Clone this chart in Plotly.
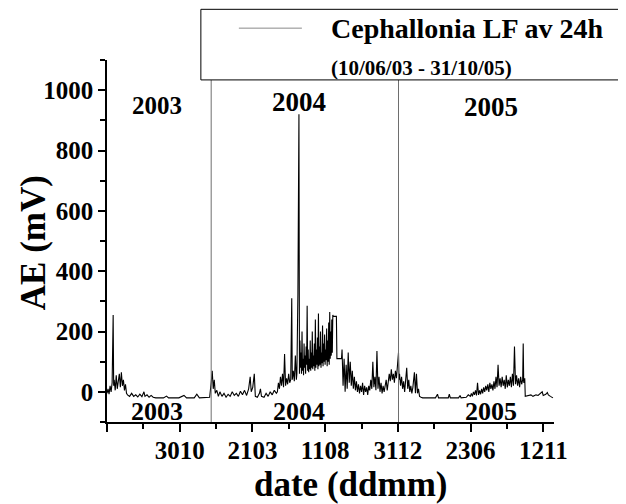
"""AE daily average at Cephallonia, 2003-2005."""

import plotly.graph_objects as go

# day index counted from 10/06/03, and the 24h-averaged AE in mV
days = [
    0, 2, 4, 6, 8, 10, 12, 13, 14, 16, 18, 20, 22, 24, 26, 28, 30, 32, 34, 36, 38, 40,
    44, 48, 52, 56, 60, 64, 68, 72, 74, 78, 82, 86, 90, 95,
    110, 116, 120, 140, 150, 155, 170, 175, 180, 195, 200,
    203, 205, 207, 209, 211, 214, 217, 220, 224, 228, 232, 236, 240, 244, 248, 252,
    256, 260, 264, 268, 272, 276, 279, 281, 284, 287, 289, 293, 297, 299, 301, 306,
    310, 314, 318, 322, 326, 330,
    332, 334, 336, 338, 340, 342, 344, 346, 348, 350, 352, 354, 356, 358, 360, 361,
    363, 365, 367, 369, 370, 372, 374,
    375, 376, 377, 378, 379, 380, 381, 382, 383, 384, 385, 386, 387, 388, 389, 390,
    391, 392, 393, 394, 395, 396, 397, 398, 399, 400, 401, 402, 403, 404, 405, 406,
    407, 408, 409, 410, 411, 412, 413, 414, 415, 416, 417, 418, 419, 420, 421, 422,
    423, 424, 425, 426, 427, 428, 429, 430, 431, 432, 433, 434, 435, 436, 437, 438,
    439, 440, 441, 447, 448, 457,
    458, 460, 462, 464, 466, 468, 470, 472, 474, 476, 478, 480, 482, 484, 486, 488,
    490, 492, 494, 496, 498, 500, 502, 504, 506, 508, 510, 512, 514, 516, 518, 520,
    522, 524, 526, 528, 530, 532, 534, 536, 538, 540, 542, 544, 546, 548, 550, 552,
    554, 556, 558, 560, 562, 564, 566, 568, 569,
    570, 572, 574, 576, 578, 580, 582, 584, 586, 588, 590, 592, 594, 596, 599, 601,
    603, 605, 607, 609, 612, 615,
    640, 644, 646, 665, 667, 669, 685, 688, 690, 700, 704, 708,
    710, 712, 714, 716, 718, 720, 722, 724, 726, 728, 730, 732, 734, 736, 738, 740,
    742, 744, 746, 748, 750, 752, 754, 756, 758, 760, 762, 764, 766, 768, 770, 772,
    774, 776, 778, 780, 782, 784, 786, 788, 790, 792, 794, 796, 798, 800, 802, 804,
    806, 808, 810, 811, 812, 814, 815,
    820, 826, 830, 836, 840, 845, 848, 850, 855, 858, 860, 864, 869,
]
ae_mv = [
    -5, 10, -8, 20, 0, 30, 255, 20, 40, 5, 55, 10, 45, 60, 15, 65, 20, 40, 5, 25, -5, -10,
    -15, -5, -15, -10, -17, -8, -16, 0, -15, -10, -18, -12, -18, -20,
    -20, -14, -20, -20, -12, -20, -20, -8, -20, -20, -18,
    30, 70, 10, 40, -5, 5, -15, 0, -15, -5, -18, -8, -15, 0, -12, -5,
    -15, 2, -10, 5, -12, 10, 50, 0, 15, 60, -15, -18, -5, 10, -15, -18,
    -5, -15, 0, -10, 5, -5,
    0, 30, 10, 50, 20, 60, 15, 125, 20, 45, 25, 60, 30, 40, 310, 40,
    70, 35, 120, 40, 60, 325, 920,
    60, 170, 80, 130, 60, 200, 70, 110, 55, 160, 80, 120, 60, 150, 90, 285,
    70, 140, 65, 110, 75, 170, 70, 130, 80, 200, 75, 120, 85, 160, 70, 240,
    80, 140, 90, 180, 75, 260, 85, 150, 90, 200, 80, 130, 95, 220, 85, 160,
    100, 190, 90, 140, 105, 210, 85, 170, 100, 230, 90, 265, 110, 200, 120, 240,
    130, 255, 250, 250, 110, 110,
    140, 20, 110, 0, 90, 10, 130, 30, 100, 20, 70, 10, 50, 5, 35, 0,
    25, -5, 20, 0, 30, -10, 20, 0, 15, -10, 20, 5, 40, 10, 100, 15,
    50, 5, 135, 10, 50, 0, 30, -5, 20, 0, 25, 40, 5, 30, 60, 35,
    75, 40, 60, 30, 70, 45, 80, 130, 40,
    60, 20, 50, 10, 35, 0, 30, 80, 10, 40, 0, 20, -5, 15, 65, -5,
    60, -5, 10, -15, -18, -20,
    -20, -8, -20, -20, -8, -20, -20, -12, -20, -18, -10, -15,
    -5, -15, 0, -10, 5, -12, 30, -10, 5, -8, 10, -5, 15, 0, 20, 5,
    25, 0, 30, 10, 25, 5, 35, 10, 50, 15, 90, 20, 45, 15, 50, 20,
    40, 10, 55, 15, 40, 20, 50, 15, 60, 20, 150, 25, 55, 20, 45, 15,
    50, 25, 40, 160, 30, 45, -15,
    -12, -10, -15, -10, -12, -5, 0, -12, -8, -2, -10, -15, -20,
]

tick_labels = ["", "3010", "2103", "1108", "3112", "2306", "1211"]
tick_step_days = 141.7
year_labels = ["2003", "2004", "2005"]
year_label_days = [97, 374, 749]
year_bounds = [203, 568]

FONT = "Liberation Serif"

fig = go.Figure()
fig.add_trace(go.Scatter(
    x=days,
    y=ae_mv,
    mode="lines",
    line=dict(color="black", width=1.1),
    name="Cephallonia LF av 24h",
    showlegend=False,
))

major = [i * tick_step_days for i in range(len(tick_labels))]
minor = [m + tick_step_days / 2 for m in major]

# year boundaries, running up to the legend box
for d in year_bounds:
    fig.add_shape(type="line", xref="x", yref="paper", x0=d, x1=d, y0=0, y1=0.945,
                  line=dict(color="#6e6e6e", width=1))

# hand-drawn legend box, cut by the right edge like the original
fig.add_shape(type="rect", xref="paper", yref="paper", x0=0.210, x1=1.3, y0=0.945, y1=1.14,
              line=dict(color="black", width=1), fillcolor="white", layer="above")
fig.add_shape(type="line", xref="paper", yref="paper", x0=0.295, x1=0.436, y0=1.088, y1=1.088,
              line=dict(color="#8a8a8a", width=1))
fig.add_annotation(text="Cephallonia LF av 24h", xref="paper", yref="paper",
                   x=0.497, y=1.088, xanchor="left", yanchor="middle", showarrow=False,
                   font=dict(family=FONT, size=28, color="black", weight="bold"))
fig.add_annotation(text="(10/06/03 - 31/10/05)", xref="paper", yref="paper",
                   x=0.497, y=0.978, xanchor="left", yanchor="middle", showarrow=False,
                   font=dict(family=FONT, size=21, color="black", weight="bold"))

# year labels above and at the bottom of the trace
top_y = [950, 960, 944]
top_size = [25, 27, 27]
for lab, d, yy, sz in zip(year_labels, year_label_days, top_y, top_size):
    fig.add_annotation(text=lab, x=d, y=yy, xref="x", yref="y", showarrow=False,
                       xanchor="center", yanchor="middle",
                       font=dict(family=FONT, size=sz, color="black", weight="bold"))
    fig.add_annotation(text=lab, x=d, y=-64, xref="x", yref="y", showarrow=False,
                       xanchor="center", yanchor="middle",
                       font=dict(family=FONT, size=26, color="black", weight="bold"))

# axis titles
fig.add_annotation(text="AE (mV)", xref="paper", yref="paper", x=-0.1655, y=0.494,
                   xanchor="center", yanchor="middle", textangle=-90, showarrow=False,
                   font=dict(family=FONT, size=35, color="black", weight="bold"))
fig.add_annotation(text="date (ddmm)", xref="paper", yref="paper", x=0.544, y=-0.174,
                   xanchor="center", yanchor="middle", showarrow=False,
                   font=dict(family=FONT, size=35, color="black", weight="bold"))

fig.update_xaxes(
    range=[0, 871],
    tickmode="array",
    tickvals=major,
    ticktext=tick_labels,
    ticks="outside",
    ticklen=8,
    tickwidth=1.5,
    tickcolor="black",
    ticklabelstandoff=-3,
    minor=dict(tickmode="array", tickvals=minor, ticks="outside", ticklen=5,
               tickwidth=1.5, tickcolor="black"),
    showline=True,
    linecolor="black",
    linewidth=1.5,
    showgrid=False,
    zeroline=False,
    tickfont=dict(family=FONT, size=25, color="black", weight="bold"),
)
fig.update_yaxes(
    range=[-100, 1100],
    tickmode="array",
    tickvals=[0, 200, 400, 600, 800, 1000],
    ticks="outside",
    ticklen=7,
    tickwidth=1.5,
    tickcolor="black",
    minor=dict(dtick=100, tick0=0, ticks="outside", ticklen=5, tickwidth=1.5,
               tickcolor="black"),
    showline=True,
    linecolor="black",
    linewidth=1.5,
    showgrid=False,
    zeroline=False,
    tickfont=dict(family=FONT, size=25, color="black", weight="bold"),
)

# the page body adds 8px around the figure, so the figure is 8px smaller
fig.update_layout(
    width=618,
    height=496,
    margin=dict(l=99, r=72, t=52, b=82),
    plot_bgcolor="white",
    paper_bgcolor="white",
    showlegend=False,
)

fig.write_html("out.html")
